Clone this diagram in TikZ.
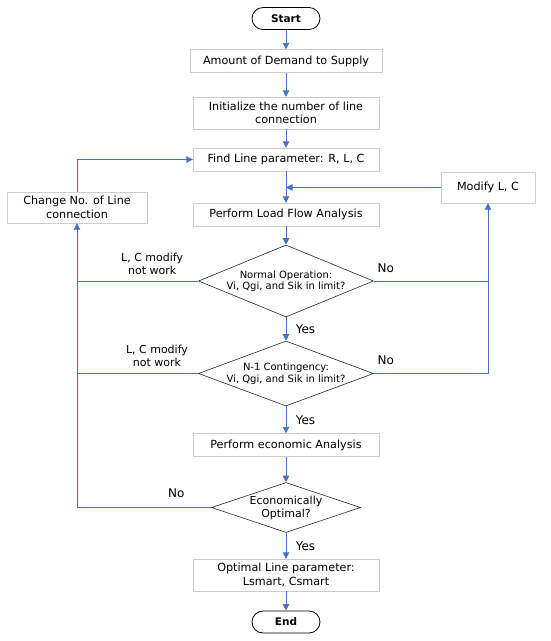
\documentclass[tikz,border=0pt]{standalone}
\usepackage{fontspec}
\setmainfont{DejaVu Sans}
\usetikzlibrary{arrows.meta, positioning, shapes.geometric}
\definecolor{flowblue}{RGB}{68,114,196}
\definecolor{boxgray}{RGB}{205,205,205}

\begin{document}
\begin{tikzpicture}[
    x=1pt, y=1pt,
    >={Triangle[length=6.5pt, width=6.5pt]},
    terminal/.style={rectangle, rounded corners=11pt, draw=black, thick,
                     minimum width=68pt, minimum height=22pt, font=\fontsize{10.5}{12}\selectfont\bfseries},
    process/.style={rectangle, draw=boxgray, minimum width=186pt, minimum height=23pt,
                    align=center, inner sep=2pt, font=\fontsize{11.2}{13.5}\selectfont},
    decision/.style={diamond, draw=black!85, line width=0.6pt, aspect=#1, inner sep=0pt, align=center,
                     font=\fontsize{10}{11.5}\selectfont},
    flow/.style={->, flowblue, line width=0.9pt},
    link/.style={flowblue, line width=0.9pt},
    tag/.style={text=black, font=\fontsize{11}{13}\selectfont, align=center},
    answer/.style={text=black, font=\fontsize{12}{14}\selectfont},
]
    \useasboundingbox (0,0) rectangle (550,-641);

    \node[terminal] (start) at (286,-18.5) {Start};
    \begin{scope}[on grid]
    \node[process, minimum width=192pt, below=42.5pt of start] (demand) {Amount of Demand to Supply};
    \node[process, minimum height=32pt, below=52pt of demand] (init) {Initialize the number of line\\connection};
    \node[process, below=46.5pt of init] (find) {Find Line parameter: R, L, C};
    \node[process, below=55pt of find] (loadflow) {Perform Load Flow Analysis};
    \node[decision=2.4, minimum width=175pt, minimum height=72pt, below=66.5pt of loadflow] (normal)
        {Normal Operation:\\Vi, Qgi, and Sik in limit?};
    \node[decision=2.65, inner xsep=-1.5pt, minimum width=175pt, minimum height=65pt, below=92.5pt of normal] (contin)
        {N-1 Contingency:\\Vi, Qgi, and Sik in limit?};
    \node[process, below=71.5pt of contin] (econ) {Perform economic Analysis};
    \node[decision=3, minimum width=149pt, minimum height=50pt, font=\fontsize{11}{13}\selectfont,
          below=62.5pt of econ] (optim) {Economically\\Optimal?};
    \node[process, minimum height=32pt, below=67.5pt of optim] (result) {Optimal Line parameter:\\Lsmart, Csmart};
    \node[terminal, below=47pt of result] (end) {End};
    \end{scope}

    \node[process, minimum width=140pt, minimum height=31pt] (change) at (77,-207.5) {Change No. of Line\\connection};
    \node[process, minimum width=94pt, minimum height=31pt] (modify) at (488,-187.5) {Modify L, C};

    % main path
    \draw[flow] (start) -- (demand);
    \draw[flow] (demand) -- (init);
    \draw[flow] (init) -- (find);
    \draw[flow] (find) -- (loadflow);
    \draw[flow] (loadflow) -- (normal);
    \draw[flow] (normal) -- node[answer, right=6pt] {Yes} (contin);
    \draw[flow] (contin) -- node[answer, right=6pt] {Yes} (econ);
    \draw[flow] (econ) -- (optim);
    \draw[flow] (optim) -- node[answer, right=6pt] {Yes} (result);
    \draw[flow] (result) -- (end);

    % loops back
    \draw[link] (normal.west) -- (normal.west -| change.south)
        node[tag, pos=0.38, above=3pt] {L, C modify\\not work};
    \draw[link] (contin.west) -- (contin.west -| change.south)
        node[tag, pos=0.34, above=3pt] {L, C modify\\not work};
    \draw[flow] (optim.west) -| (change.south)
        node[answer, pos=0.13, above=6pt] {No};
    \draw[flow] (change.north) |- (find.west);

    \draw[link] (normal.east) -- (normal.east -| modify.south)
        node[answer, pos=0, above right=5pt and 0pt] {No};
    \draw[flow] (contin.east) -| (modify.south)
        node[answer, pos=0, above right=5pt and 0pt] {No};
    \draw[flow] (modify.west) -- (modify.west -| loadflow.north);
\end{tikzpicture}
\end{document}
